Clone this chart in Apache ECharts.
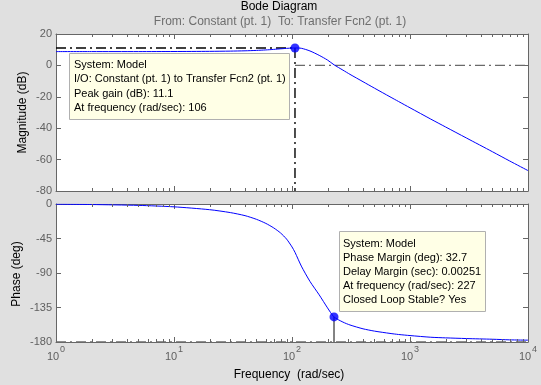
<!DOCTYPE html>
<html>
<head>
<meta charset="utf-8">
<script src="https://cdn.jsdelivr.net/npm/echarts@6/dist/echarts.min.js"></script>
<style>
html,body{margin:0;padding:0;background:#e0e0e0;}
#chart{width:541px;height:385px;}
</style>
</head>
<body>
<div id="chart"></div>
<script>
// ---- data ----
const freq = [1, 2, 5, 10, 20, 30, 40, 50, 60, 70, 80, 90, 100, 106, 120, 142, 170, 200, 227, 270, 310, 400, 500, 677, 800, 1000, 1500, 2000, 3000, 5000, 7000, 10000];
const magDb = [8.8, 8.8, 8.8, 8.85, 8.95, 9.1, 9.3, 9.55, 9.85, 10.2, 10.55, 10.85, 11.05, 11.1, 10.9, 9.2, 6.4, 3.4, 0.4, -3.0, -5.7, -10.4, -14.5, -20.0, -23.0, -27.0, -34.2, -39.2, -46.2, -55.0, -60.9, -67.0];
const phaseDeg = [-0.3, -0.7, -1.8, -3.7, -7.4, -11.2, -15.2, -20.0, -25.3, -31.2, -37.8, -45.8, -56.0, -63.0, -81.0, -101.0, -118.5, -135.5, -147.3, -154.0, -157.8, -162.8, -165.8, -168.8, -170.2, -171.6, -173.8, -174.6, -175.5, -176.4, -177.2, -177.6];
const minorFreq = [2,3,4,5,6,7,8,9,20,30,40,50,60,70,80,90,200,300,400,500,600,700,800,900,2000,3000,4000,5000,6000,7000,8000,9000];
const magTicks = [-80, -60, -40, -20, 0, 20];
const phaseTicks = [-180, -135, -90, -45, 0];
const freqRange = [1, 10000];
const peakFreq = [106];
const peakGain = [11.1];
const pmFreq = [227];
const pmPhase = [-147.3];
const phaseMargin = 32.7;
const delayMargin = 0.00251;

const titleText = 'Bode Diagram';
const subTitleText = 'From: Constant (pt. 1)  To: Transfer Fcn2 (pt. 1)';
const peakTip = ['System: Model', 'I/O: Constant (pt. 1) to Transfer Fcn2 (pt. 1)', 'Peak gain (dB): ' + peakGain[0], 'At frequency (rad/sec): ' + peakFreq[0]];
const pmTip = ['System: Model', 'Phase Margin (deg): ' + phaseMargin, 'Delay Margin (sec): ' + delayMargin, 'At frequency (rad/sec): ' + pmFreq[0], 'Closed Loop Stable? Yes'];

// ---- styles ----
const FONT = 'Liberation Sans, Arial, sans-serif';
const FRAME = '#666666';
const TICKC = '#5f5f5f';
const BLUE = '#0000ff';
const DASHDOT = [10, 4, 2, 4];

const chart = echarts.init(document.getElementById('chart'), null, {renderer: 'canvas'});

function xAxisCfg(grid, pos, labels) {
  return {
    type: 'log', logBase: 10, gridIndex: grid, position: pos,
    min: freqRange[0], max: freqRange[1],
    axisLine: {show: true, onZero: false, lineStyle: {color: FRAME, width: 1}},
    axisTick: {show: true, inside: true, length: 5, lineStyle: {color: FRAME}},
    splitLine: {show: false},
    axisLabel: labels ? {
      show: true, margin: 3,
      formatter: v => '{b|10}{s|' + Math.round(Math.log10(v)) + '}',
      rich: {
        b: {fontSize: 11, fontFamily: FONT, color: TICKC, verticalAlign: 'bottom', padding: [6, 0, 0, 0]},
        s: {fontSize: 9, fontFamily: FONT, color: TICKC, verticalAlign: 'top', padding: [0, 0, 0, 1]}
      }
    } : {show: false}
  };
}
function yAxisCfg(grid, pos, ticks, labels) {
  return {
    type: 'value', gridIndex: grid, position: pos,
    min: ticks[0], max: ticks[ticks.length - 1], interval: ticks[1] - ticks[0],
    axisLine: {show: true, onZero: false, lineStyle: {color: FRAME, width: 1}},
    axisTick: {show: true, inside: true, length: 5, lineStyle: {color: FRAME}},
    splitLine: {show: false},
    axisLabel: labels ? {show: true, margin: 4, fontSize: 11, fontFamily: FONT, color: TICKC} : {show: false}
  };
}

function minorTickSeries(xi, yi, yLo, yHi) {
  return {
    type: 'custom', xAxisIndex: xi, yAxisIndex: yi, silent: true, z: 5,
    data: minorFreq.map(f => [f, yLo]),
    renderItem: function (params, api) {
      const f = api.value(0);
      const pb = api.coord([f, yLo]);
      const pt = api.coord([f, yHi]);
      const x = Math.round(pb[0]) + 0.5;
      return {
        type: 'group',
        children: [
          {type: 'line', shape: {x1: x, y1: pb[1], x2: x, y2: pb[1] - 3}, style: {stroke: FRAME, lineWidth: 1}},
          {type: 'line', shape: {x1: x, y1: pt[1], x2: x, y2: pt[1] + 3}, style: {stroke: FRAME, lineWidth: 1}}
        ]
      };
    }
  };
}

function refLine(xi, yi, data, color, type, width) {
  return {
    type: 'line', xAxisIndex: xi, yAxisIndex: yi, data: data, showSymbol: false, silent: true,
    lineStyle: {color: color, width: width, type: type}, z: 3, animation: false
  };
}

const magMin = magTicks[0], magMax = magTicks[magTicks.length - 1];
const phMin = phaseTicks[0], phMax = phaseTicks[phaseTicks.length - 1];

function textLines(lines, x, y, lh) {
  return {
    type: 'text', x: x, y: y, z: 100,
    style: {text: lines.join('\n'), font: '11px ' + FONT, fill: '#000', lineHeight: lh, verticalAlign: 'top', textAlign: 'left'}
  };
}

const option = {
  backgroundColor: '#e0e0e0',
  animation: false,
  grid: [
    {left: 56, top: 34, width: 472, height: 157, backgroundColor: '#ffffff', show: true, borderWidth: 0},
    {left: 56, top: 204, width: 472, height: 138, backgroundColor: '#ffffff', show: true, borderWidth: 0}
  ],
  xAxis: [
    xAxisCfg(0, 'bottom', false),
    xAxisCfg(0, 'top', false),
    xAxisCfg(1, 'bottom', true),
    xAxisCfg(1, 'top', false)
  ],
  yAxis: [
    yAxisCfg(0, 'left', magTicks, true),
    yAxisCfg(0, 'right', magTicks, false),
    yAxisCfg(1, 'left', phaseTicks, true),
    yAxisCfg(1, 'right', phaseTicks, false)
  ],
  series: [
    minorTickSeries(0, 0, magMin, magMax),
    minorTickSeries(2, 2, phMin, phMax),
    refLine(0, 0, [[freqRange[0], peakGain[0]], [peakFreq[0], peakGain[0]]], '#000', DASHDOT, 1.4),
    refLine(0, 0, [[peakFreq[0], peakGain[0]], [peakFreq[0], magMin]], '#000', DASHDOT, 1.4),
    refLine(0, 0, [[peakFreq[0], 0], [freqRange[1], 0]], '#6a6a6a', DASHDOT, 1.4),
    refLine(2, 2, [[freqRange[0], phMin], [freqRange[1], phMin]], '#6a6a6a', DASHDOT, 1.4),
    refLine(2, 2, [[pmFreq[0], pmPhase[0]], [pmFreq[0], phMin]], '#5a5a5a', 'solid', 1.5),
    {
      type: 'line', xAxisIndex: 0, yAxisIndex: 0, showSymbol: false, smooth: 0.25, z: 4,
      data: freq.map((f, i) => [f, magDb[i]]),
      lineStyle: {color: BLUE, width: 1}
    },
    {
      type: 'line', xAxisIndex: 2, yAxisIndex: 2, showSymbol: false, smooth: 0.25, z: 4,
      data: freq.map((f, i) => [f, phaseDeg[i]]),
      lineStyle: {color: BLUE, width: 1}
    },
    {
      type: 'scatter', xAxisIndex: 0, yAxisIndex: 0, symbol: 'circle', symbolSize: 9, z: 6,
      data: peakFreq.map((f, i) => [f, peakGain[i]]),
      itemStyle: {color: BLUE}
    },
    {
      type: 'scatter', xAxisIndex: 2, yAxisIndex: 2, symbol: 'circle', symbolSize: 9, z: 6,
      data: pmFreq.map((f, i) => [f, pmPhase[i]]),
      itemStyle: {color: BLUE}
    }
  ],
  graphic: [
    {type: 'text', x: 279, y: 1, style: {text: titleText, font: '12px ' + FONT, fill: '#000', textAlign: 'center', verticalAlign: 'top'}},
    {type: 'text', x: 280, y: 15.5, style: {text: subTitleText, font: '12px ' + FONT, fill: '#6e6e6e', textAlign: 'center', verticalAlign: 'top'}},
    {type: 'text', x: 22.5, y: 112.5, rotation: Math.PI / 2, style: {text: 'Magnitude (dB)', font: '12px ' + FONT, fill: '#000', textAlign: 'center', verticalAlign: 'middle'}},
    {type: 'text', x: 17, y: 274, rotation: Math.PI / 2, style: {text: 'Phase (deg)', font: '12px ' + FONT, fill: '#000', textAlign: 'center', verticalAlign: 'middle'}},
    {type: 'text', x: 289, y: 375, style: {text: 'Frequency  (rad/sec)', font: '12px ' + FONT, fill: '#000', textAlign: 'center', verticalAlign: 'middle'}},
    {type: 'rect', z: 99, shape: {x: 69.5, y: 53.5, width: 220, height: 66}, style: {fill: '#ffffe6', stroke: '#b0b0b0', lineWidth: 1}},
    textLines(peakTip, 74, 58, 14.2),
    {type: 'rect', z: 99, shape: {x: 339.5, y: 231.5, width: 146, height: 80}, style: {fill: '#ffffe6', stroke: '#b0b0b0', lineWidth: 1}},
    textLines(pmTip, 343, 236.5, 14)
  ]
};
chart.setOption(option);
</script>
</body>
</html>
